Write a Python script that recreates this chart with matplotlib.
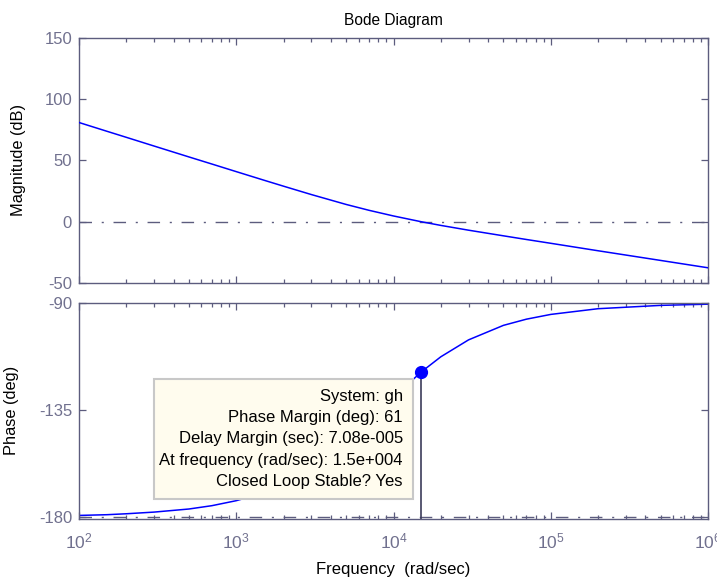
import matplotlib
matplotlib.use("Agg")
import matplotlib.pyplot as plt
from matplotlib.patches import Rectangle
from matplotlib.ticker import LogLocator, LogFormatterMathtext, NullFormatter

plt.rcParams['font.family'] = ['Liberation Sans', 'DejaVu Sans']
plt.rcParams['mathtext.default'] = 'regular'
plt.rcParams['axes.unicode_minus'] = False

# Open-loop response of system "gh"
freq = [1e2, 1.5e2, 2e2, 3e2, 5e2, 7e2, 1e3, 1.5e3, 2e3, 3e3, 5e3, 7e3,
        1e4, 1.5e4, 2e4, 3e4, 5e4, 7e4, 1e5, 2e5, 5e5, 1e6]
mag_db = [81.0, 73.9, 68.9, 61.8, 52.9, 47.1, 40.9, 33.9, 29.0, 22.2, 14.1, 9.3,
          4.7, 0.0, -3.0, -6.9, -11.5, -14.5, -17.6, -23.7, -31.6, -37.6]
phase_deg = [-179.3, -179.0, -178.6, -177.9, -176.6, -175.2, -173.1, -169.8,
             -166.5, -160.2, -149.0, -139.9, -129.7, -119.0, -112.6, -105.5,
             -99.4, -96.8, -94.8, -92.4, -91.0, -90.5]

# Stability margin read-out
pm_freq = 1.5e4
pm_phase = -119.0
tip_lines = ["System: gh",
             "Phase Margin (deg): 61",
             "Delay Margin (sec): 7.08e-005",
             "At frequency (rad/sec): 1.5e+004",
             "Closed Loop Stable? Yes"]

mag_ticks = [-50, 0, 50, 100, 150]
phase_ticks = [-180, -135, -90]

axis_col = '#5c5c7e'
label_col = '#70708e'
curve_col = '#0000ff'

fig = plt.figure(figsize=(7.17, 5.80), dpi=100)
ax1 = fig.add_axes([0.1102, 0.5121, 0.8773, 0.4224])
ax2 = fig.add_axes([0.1102, 0.1060, 0.8773, 0.3716])

dash = (0, (9, 7, 1.5, 7))

ax1.semilogx(freq, mag_db, color=curve_col, lw=1.1, zorder=3)
ax1.axhline(0, color=axis_col, lw=1.0, linestyle=dash, zorder=2)
ax1.set_xlim(1e2, 1e6)
ax1.set_ylim(-50, 150)
ax1.set_yticks(mag_ticks)
ax1.set_ylabel("Magnitude (dB)", fontsize=11.8, color='black')
ax1.yaxis.set_label_coords(-0.084, 0.5)
ax1.set_title("Bode Diagram", fontsize=11.2, color='black', pad=9)

ax2.semilogx(freq, phase_deg, color=curve_col, lw=1.1, zorder=2)
ax2.axhline(-180, color=axis_col, lw=1.0, linestyle=dash, zorder=2)
ax2.set_xlim(1e2, 1e6)
ax2.set_ylim(-180.6, -90)
ax2.set_yticks(phase_ticks)
ax2.set_ylabel("Phase (deg)", fontsize=11.8, color='black')
ax2.yaxis.set_label_coords(-0.095, 0.5)
ax2.set_xlabel("Frequency  (rad/sec)", fontsize=12, color='black')
ax2.xaxis.set_label_coords(0.5, -0.20)

# margin marker with a drop line to the axis
ax2.plot([pm_freq, pm_freq], [pm_phase, -180.6], color='#3c3c5a', lw=1.2, zorder=3)
ax2.plot([pm_freq], [pm_phase], 'o', color=curve_col, ms=8.5, zorder=6)

# data tip box
ax2.add_patch(Rectangle((0.1192, 0.0905), 0.4118, 0.5565, transform=ax2.transAxes,
                        facecolor='#fffcee', edgecolor='#c8c8c8', lw=1.5, zorder=4))
y0, step = 0.564, 0.0975
for i, line in enumerate(tip_lines):
    ax2.text(0.515, y0 - i * step, line, transform=ax2.transAxes, ha='right',
             va='center', fontsize=12, color='black', zorder=5)

for ax in (ax1, ax2):
    for sp in ax.spines.values():
        sp.set_color(axis_col)
        sp.set_linewidth(1.0)
    ax.xaxis.set_major_locator(LogLocator(base=10, numticks=10))
    ax.xaxis.set_minor_locator(LogLocator(base=10, subs=range(2, 10), numticks=20))
    ax.xaxis.set_minor_formatter(NullFormatter())
    ax.tick_params(which='both', direction='in', top=True, right=True,
                   color=axis_col, labelcolor=label_col, labelsize=12)
    ax.tick_params(which='major', length=5, width=0.9)
    ax.tick_params(which='minor', length=3, width=0.9)
    ax.tick_params(axis='y', which='major', pad=5)

ax1.tick_params(axis='x', which='both', labelbottom=False)
ax2.xaxis.set_major_formatter(LogFormatterMathtext())
ax2.tick_params(axis='x', which='major', pad=9, labelsize=12.5)

fig.savefig("out.png", dpi=100)
